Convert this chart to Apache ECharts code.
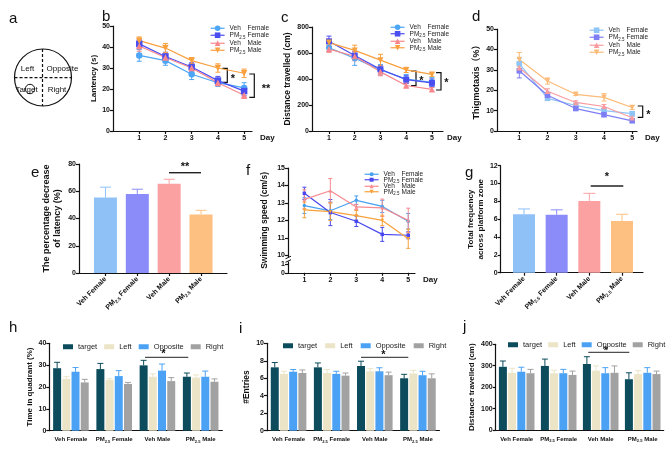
<!DOCTYPE html>
<html>
<head>
<meta charset="utf-8">
<script src="https://cdn.jsdelivr.net/npm/echarts@6/dist/echarts.min.js"></script>
<style>
  html, body { margin: 0; background: #fff; }
  #main { width: 669px; height: 451px; }
</style>
</head>
<body>
<div id="main"></div>
<script>
var F = '"Liberation Sans", Arial, "Noto Sans CJK SC", sans-serif';
var INK = '#111';

var days = [1, 2, 3, 4, 5];
var groups = ['Veh Female', 'PM2.5 Female', 'Veh Male', 'PM2.5 Male'];
var zones = ['target', 'Left', 'Opposite', 'Right'];

// b latency (s), one row per group
var latencyMean = [[36, 33.5, 27, 23, 20.5], [41.5, 35.5, 30.5, 24, 19], [40.5, 35, 30, 23, 17], [43, 39.5, 33.5, 30, 27.5]];
var latencySem = [[2.8, 2.2, 2.5, 1.8, 2.5], [2, 2, 2, 2, 2.2], [2.5, 2, 2, 1.5, 1.5], [1.8, 2.2, 1.5, 2, 2]];
// c distance travelled (cm)
var distMean = [[640, 560, 470, 400, 375], [690, 580, 475, 395, 370], [630, 575, 455, 350, 320], [680, 620, 545, 470, 435]];
var distSem = [[30, 55, 40, 35, 35], [40, 30, 30, 30, 30], [25, 35, 30, 20, 15], [20, 40, 45, 20, 15]];
// d thigmotaxis (%)
var thigMean = [[33, 16, 12.5, 10, 8.5], [29.5, 17.5, 11, 8, 5], [31, 19.5, 14, 12, 6.5], [35, 24.5, 18, 16.5, 11.5]];
var thigSem = [[2.5, 1, 1, 1.2, 1], [3.5, 1.2, 0.8, 1, 0.8], [2, 1.2, 0.8, 1, 0.8], [3.5, 1.5, 0.6, 1.8, 1]];
// e percentage decrease of latency
var decreaseMean = [55.5, 58, 65.5, 43];
var decreaseSem = [7.5, 3.5, 3.3, 3];
// f swimming speed (cm/s)
var speedMean = [[12.85, 12.55, 13.15, 12.8, 11.95], [13.55, 12.45, 11.95, 11.2, 11.15], [13.2, 13.7, 12.77, 12.72, 12.0], [12.6, 12.5, 12.27, 12.0, 10.95]];
var speedSem = [[0.45, 0.5, 0.25, 0.35, 0.45], [0.35, 0.75, 0.3, 0.4, 0.2], [0.55, 0.7, 0.15, 0.5, 0.7], [0.45, 0.5, 0.3, 0.3, 0.55]];
var speedTicks = [9, 9.5, 10, 11, 12, 13, 14, 15];
// g crossings
var crossMean = [6.55, 6.5, 8.05, 5.8];
var crossSem = [0.6, 0.55, 0.85, 0.75];
// h/i/j: one row per zone, one column per group
var timeMean = [[28.6, 28.2, 29.9, 24.7], [23.7, 23.2, 24.7, 24.3], [27, 25, 27.5, 24.7], [22.1, 21.4, 22.7, 22.4]];
var timeSem = [[2.7, 2.6, 2.3, 1.7], [1.0, 0.6, 1.3, 1.2], [1.9, 2.5, 3.0, 2.6], [1.4, 0.7, 1.6, 1.3]];
var entryMean = [[7.25, 7.25, 7.4, 6.0], [6.5, 6.6, 6.8, 6.55], [6.75, 6.5, 6.8, 6.35], [6.6, 6.3, 6.35, 6.0]];
var entrySem = [[0.55, 0.5, 0.55, 0.45], [0.3, 0.4, 0.3, 0.35], [0.25, 0.3, 0.4, 0.45], [0.35, 0.3, 0.35, 0.5]];
var zoneDistMean = [[295, 299, 308, 237], [267, 265, 277, 261], [272, 265, 265, 267], [265, 257, 267, 261]];
var zoneDistSem = [[27, 32, 34, 30], [21, 14, 22, 16], [21, 18, 26, 24], [18, 18, 32, 14]];

// styles
var INV = 'path://M0,0L10,0L5,9Z';
var lineColors = ['#4da6f5', '#4a4ef0', '#f7878c', '#f9a03f'];
var lightColors = ['#8fc4f7', '#7e7ef5', '#f89ca0', '#fbbb78'];
var speedColors = ['#48a0f0', '#4848ee', '#f88a90', '#f7a13a'];
var barColors = ['#8fc1f7', '#8b8cf9', '#fca1a2', '#fdc081'];
var zoneColors = ['#0c4c5c', '#ebe4c6', '#4ba2f5', '#a2a2a2'];
var shapes = ['circle', 'rect', 'triangle', INV];
var shapesD = ['rect', 'rect', 'triangle', INV];

var chart = echarts.init(document.getElementById('main'));

function richSet(size, bold) {
  var w = bold ? 'bold' : 'normal';
  return {
    n: { fontSize: size, fontWeight: w, fontFamily: F, color: INK, lineHeight: size + 2 },
    a: { fontSize: size, fontWeight: w, fontFamily: F, color: '#222', lineHeight: size + 2, width: size * 2.75 },
    p: { fontSize: size, fontWeight: w, fontFamily: F, color: '#222', lineHeight: size + 2 },
    s: { fontSize: size * 0.68, fontWeight: w, fontFamily: F, color: '#222', lineHeight: size * 0.45, verticalAlign: 'bottom' },
    t: { fontSize: size * 0.68, fontWeight: w, fontFamily: F, color: '#222', lineHeight: size * 0.45, verticalAlign: 'bottom', width: size * 1.25 }
  };
}
// series names carry a panel key after '|', so each legend finds its own panel's series
function legendFmt(name) {
  var p = name.split('|')[0].split(' ');
  if (p[0] === 'PM2.5') return '{p|PM}{t|2.5}{p|' + p[1] + '}';
  return '{a|' + p[0] + '}{p|' + p[1] + '}';
}
function pmLabel(name) {
  if (name.indexOf('PM2.5') === 0) return '{n|PM}{s|2.5}{n|' + name.slice(5) + '}';
  return '{n|' + name + '}';
}

function whisker(colors, offset, cap, both) {
  return function (params, api) {
    var col = Array.isArray(colors) ? colors[params.dataIndex] : colors;
    var lo = api.coord([api.value(0), api.value(1)]);
    var hi = api.coord([api.value(0), api.value(2)]);
    var x = lo[0] + offset;
    var st = { stroke: col, lineWidth: 1, fill: null };
    var kids = [
      { type: 'line', shape: { x1: x, y1: lo[1], x2: x, y2: hi[1] }, style: st },
      { type: 'line', shape: { x1: x - cap, y1: hi[1], x2: x + cap, y2: hi[1] }, style: st }
    ];
    if (both) kids.push({ type: 'line', shape: { x1: x - cap, y1: lo[1], x2: x + cap, y2: lo[1] }, style: st });
    return { type: 'group', children: kids };
  };
}

var axisLine = { show: true, onZero: false, lineStyle: { color: INK, width: 1.2 } };
var axisTick = { show: true, length: 3, lineStyle: { color: INK, width: 1.2 } };
var tickFont = { color: INK, fontSize: 7, fontWeight: 'bold', fontFamily: F, margin: 3 };

function yAx(grid, min, max, interval, name, gap, size, lh) {
  return {
    type: 'value', gridIndex: grid, min: min, max: max, interval: interval,
    axisLine: axisLine, axisTick: axisTick, splitLine: { show: false },
    axisLabel: tickFont,
    name: name, nameLocation: 'middle', nameGap: gap,
    nameTextStyle: { color: INK, fontSize: size, fontWeight: 'bold', fontFamily: F, lineHeight: lh || size + 2 }
  };
}
function dayAx(grid, min, max, gap) {
  return {
    type: 'value', gridIndex: grid, min: min, max: max,
    axisLine: axisLine, splitLine: { show: false },
    axisTick: Object.assign({ customValues: days }, axisTick),
    axisLabel: Object.assign({ customValues: days }, tickFont, { margin: 4 }),
    name: 'Day', nameLocation: 'end', nameGap: gap,
    nameTextStyle: { color: INK, fontSize: 8, fontWeight: 'bold', fontFamily: F, verticalAlign: 'top', padding: [3, 0, 0, 0] }
  };
}
function groupAx(grid, min, max) {
  return {
    type: 'value', gridIndex: grid, min: min, max: max,
    axisLine: axisLine, splitLine: { show: false },
    axisTick: Object.assign({ customValues: [0, 1, 2, 3] }, axisTick),
    axisLabel: {
      customValues: [0, 1, 2, 3], rotate: 45, margin: 5,
      formatter: function (v) { return pmLabel(groups[Math.round(v)]); },
      rich: richSet(7, true)
    }
  };
}
function catAx(grid) {
  return {
    type: 'category', gridIndex: grid, data: groups,
    axisLine: axisLine, axisTick: { show: false },
    axisLabel: { margin: 5, interval: 0, formatter: pmLabel, rich: richSet(6, true) }
  };
}

function lineSeries(grid, key, means, sems, colors, shp, size, cap) {
  var out = [];
  means.forEach(function (row, g) {
    out.push({
      type: 'line', name: groups[g] + '|' + key, xAxisIndex: grid, yAxisIndex: grid,
      data: days.map(function (d, k) { return [d, row[k]]; }),
      symbol: shp[g], symbolSize: size, z: 4,
      itemStyle: { color: colors[g] }, lineStyle: { color: colors[g], width: 1.2 }
    });
    out.push({
      type: 'custom', name: groups[g] + ' sem|' + key, xAxisIndex: grid, yAxisIndex: grid, z: 3,
      data: days.map(function (d, k) { return [d, row[k] - sems[g][k], row[k] + sems[g][k]]; }),
      renderItem: whisker(colors[g], 0, cap, true)
    });
  });
  return out;
}
function barSeries(grid, name, means, sems, width, cap) {
  return [{
    type: 'bar', name: name, xAxisIndex: grid, yAxisIndex: grid, barWidth: width,
    data: means.map(function (m, i) { return { value: [i, m], itemStyle: { color: barColors[i] } }; })
  }, {
    type: 'custom', name: name + ' sem', xAxisIndex: grid, yAxisIndex: grid, z: 1,
    data: means.map(function (m, i) { return [i, m, m + sems[i]]; }),
    renderItem: whisker(barColors, 0, cap, false)
  }];
}
function zoneSeries(grid, means, sems) {
  var out = [];
  var bw = 8, gap = 1.2;
  means.forEach(function (row, z) {
    out.push({
      type: 'bar', name: zones[z], xAxisIndex: grid, yAxisIndex: grid,
      barWidth: bw, barGap: '15%', data: row, itemStyle: { color: zoneColors[z] }
    });
    out.push({
      type: 'custom', name: zones[z] + ' sem', xAxisIndex: grid, yAxisIndex: grid, z: 1,
      data: row.map(function (m, i) { return [i, m, m + sems[z][i]]; }),
      renderItem: whisker(zoneColors[z], (z - 1.5) * (bw + gap), 3, false)
    });
  });
  return out;
}
function lineLegend(key, colors, left, top, gap, mark) {
  return {
    orient: 'vertical', left: left, top: top, itemGap: gap, itemWidth: 14, itemHeight: mark,
    selectedMode: false, formatter: legendFmt, textStyle: { rich: richSet(6.5, false) },
    data: groups.map(function (n, g) {
      return { name: n + '|' + key, itemStyle: { color: colors[g] }, lineStyle: { color: colors[g], width: 1.2 } };
    })
  };
}
function zoneLegend(left, top, gap) {
  return {
    orient: 'horizontal', left: left, top: top, width: 200, itemWidth: 10, itemHeight: 5, itemGap: gap,
    selectedMode: false, textStyle: { fontSize: 7.5, fontFamily: F, color: '#222' },
    data: zones.map(function (z, k) { return { name: z, icon: 'rect', itemStyle: { color: zoneColors[k] } }; })
  };
}

// annotation helpers
function txt(x, y, s, size, extra) {
  return {
    type: 'text', x: x, y: y, silent: true,
    style: Object.assign({ text: s, fontSize: size, fontFamily: F, fill: INK, align: 'center', verticalAlign: 'middle' }, extra || {})
  };
}
function letter(x, y, s) { return txt(x, y, s, 15, { verticalAlign: 'bottom', align: 'left' }); }
function star(x, y, s) { return txt(x, y + 3, s, 11, { fontWeight: 'bold' }); }
function bracket(x, y1, y2) {
  return { type: 'polyline', silent: true, shape: { points: [[x - 5, y1], [x, y1], [x, y2], [x - 5, y2]] }, style: { stroke: INK, lineWidth: 1.2, fill: null } };
}
function bar(x1, x2, y, w) {
  return { type: 'line', silent: true, shape: { x1: x1, y1: y, x2: x2, y2: y }, style: { stroke: '#222', lineWidth: w || 1 } };
}

var dash = { stroke: INK, lineWidth: 1.2, lineDash: [3, 2] };
var graphics = [
  // panel a: pool diagram
  { type: 'circle', silent: true, shape: { cx: 43, cy: 77.5, r: 28.5 }, style: { stroke: INK, lineWidth: 1.2, fill: null } },
  { type: 'line', silent: true, shape: { x1: 14.5, y1: 77.7, x2: 71.5, y2: 77.7 }, style: dash },
  { type: 'line', silent: true, shape: { x1: 42.5, y1: 49, x2: 42.5, y2: 106 }, style: dash },
  { type: 'circle', silent: true, shape: { cx: 30, cy: 89, r: 4.7 }, style: { stroke: INK, lineWidth: 1, fill: null } },
  txt(27.5, 68.5, 'Left', 8), txt(62.5, 68.5, 'Opposite', 8),
  txt(26.5, 90, 'Target', 8), txt(57, 90, 'Right', 8),
  // panel letters
  letter(9, 26, 'a'), letter(102, 24, 'b'), letter(281, 25, 'c'), letter(472, 24, 'd'),
  letter(31, 180, 'e'), letter(246, 178, 'f'), letter(465, 180, 'g'),
  letter(9, 335, 'h'), letter(239, 336, 'i'), letter(463, 334, 'j'),
  // significance marks
  bracket(227.3, 68.3, 82.3), star(233, 76, '*'),
  bracket(254.3, 74, 97.3), star(266, 86, '**'),
  bracket(416, 71, 85.7), star(421.5, 78, '*'),
  bracket(441, 72.7, 90), star(446.5, 80, '*'),
  bracket(642.7, 106, 117.3), star(648.5, 112, '*'),
  bar(169, 201, 172.7, 1.4), star(185, 164, '**'),
  bar(590.7, 623.3, 186, 1.4), star(607, 174, '*'),
  bar(145, 188.3, 357.3), star(163.5, 350.5, '*'),
  bar(361, 408.3, 357.3), star(383.5, 351.5, '*'),
  bar(588.3, 629.3, 352.3), star(606, 347.5, '*'),
  // f axis break
  { type: 'rect', silent: true, z: 100, shape: { x: 285.5, y: 257, width: 5, height: 4.5 }, style: { fill: '#fff' } },
  { type: 'line', silent: true, z: 101, shape: { x1: 285.5, y1: 258.8, x2: 291, y2: 256.2 }, style: { stroke: INK, lineWidth: 1 } },
  { type: 'line', silent: true, z: 101, shape: { x1: 285.5, y1: 262.3, x2: 291, y2: 259.7 }, style: { stroke: INK, lineWidth: 1 } }
];

var speedY = yAx(4, 9, 15, null, 'Swimming speed (cm/s)', 18, 8.5);
delete speedY.interval;
speedY.axisTick = Object.assign({ customValues: speedTicks }, axisTick);
speedY.axisLabel = Object.assign({ customValues: speedTicks }, tickFont, {
  formatter: function (v) { return v === 9 ? '0' : v === 9.5 ? '1' : String(v); }
});

var option = {
  animation: false,
  backgroundColor: '#fff',
  textStyle: { fontFamily: F },
  grid: [
    { left: 113, top: 26, width: 139, height: 105 },
    { left: 312, top: 27, width: 131, height: 104 },
    { left: 497, top: 29, width: 140, height: 102 },
    { left: 79, top: 164, width: 148, height: 109 },
    { left: 288, top: 168, width: 127, height: 104.8 },
    { left: 500.7, top: 165.7, width: 142.3, height: 107 },
    { left: 49.3, top: 343.3, width: 173, height: 87.4 },
    { left: 267, top: 343.3, width: 172.5, height: 87.4 },
    { left: 495.7, top: 344.3, width: 168, height: 85.7 }
  ],
  xAxis: [
    dayAx(0, 0, 5.3, 8),
    dayAx(1, 0.34, 5.43, 4),
    dayAx(2, 0.21, 5.17, 8),
    groupAx(3, -0.83, 3.815),
    dayAx(4, 0.37, 5.26, 8),
    groupAx(5, -0.713, 3.643),
    catAx(6), catAx(7), catAx(8)
  ],
  yAxis: [
    yAx(0, 0, 50, 10, 'Lantency (s)', 7, 8),
    yAx(1, 0, 800, 200, 'Distance travelled (cm)', 19, 8.5),
    yAx(2, 0, 50, 10, 'Thigmotaxis（%）', 13, 9),
    yAx(3, 0, 80, 20, 'The percentage decrease\nof latency (%)', 16, 9, 11),
    speedY,
    yAx(5, 0, 12, 2, 'Total frequency\nacross platform zone', 14, 8, 10),
    yAx(6, 0, 40, 10, 'Time in quadrant (%)', 15, 8),
    yAx(7, 0, 10, 2, '#Entries', 12, 8.5),
    yAx(8, 0, 400, 100, 'Distance travelled (cm)', 18, 8)
  ],
  legend: [
    lineLegend('b', lineColors, 205, 20, 0.5, 7),
    lineLegend('c', lineColors, 385, 19, 0, 7),
    lineLegend('d', lightColors, 584, 22, 0.5, 7),
    lineLegend('f', speedColors, 359, 166, -1, 5),
    zoneLegend(58, 338, 7),
    zoneLegend(278, 337, 8),
    zoneLegend(503, 336, 6)
  ],
  graphic: graphics,
  series: [].concat(
    lineSeries(0, 'b', latencyMean, latencySem, lineColors, shapes, 6.5, 2.5),
    lineSeries(1, 'c', distMean, distSem, lineColors, shapes, 6, 2.5),
    lineSeries(2, 'd', thigMean, thigSem, lightColors, shapesD, 5.5, 2.5),
    barSeries(3, 'decrease', decreaseMean, decreaseSem, 23, 5.5),
    lineSeries(4, 'f', speedMean, speedSem, speedColors, shapes, 3.5, 2),
    barSeries(5, 'crossings', crossMean, crossSem, 22, 6),
    zoneSeries(6, timeMean, timeSem),
    zoneSeries(7, entryMean, entrySem),
    zoneSeries(8, zoneDistMean, zoneDistSem)
  )
};
chart.setOption(option);
</script>
</body>
</html>
